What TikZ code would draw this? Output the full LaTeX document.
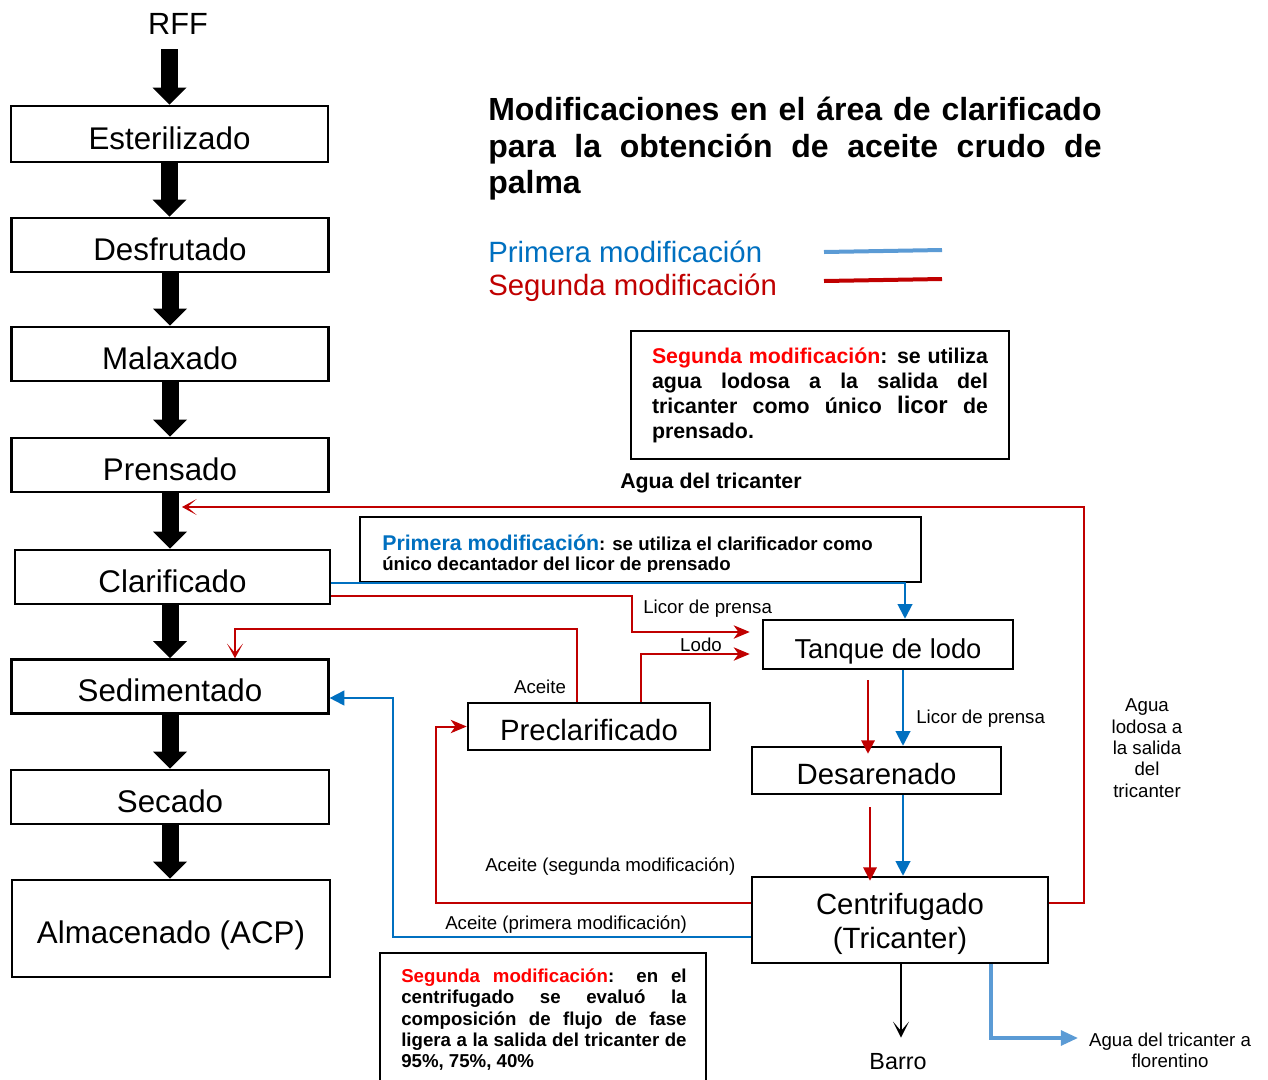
\documentclass[tikz,border=0pt]{standalone}
\usepackage{fontspec}
\setmainfont{Liberation Sans}
\usetikzlibrary{arrows.meta}

\definecolor{pblue}{RGB}{0,112,192}
\definecolor{sred}{RGB}{192,0,0}
\definecolor{hred}{RGB}{255,0,0}
\definecolor{lblue}{RGB}{91,155,213}

\newcommand\fsz[2]{\fontsize{#1}{#2}\selectfont}

\begin{document}
\begin{tikzpicture}[x=0.75pt,y=-0.75pt,
  lbox/.style={draw, line width=1.9pt, minimum width=237.5pt, minimum height=40.5pt,
               inner sep=0pt, text height=23pt, text depth=0pt, font=\fsz{23.5}{28}},
  rbox/.style={draw, line width=1.9pt, inner sep=0pt, align=center, font=\fsz{22}{25.5}},
  onel/.style={text height=21.5pt, text depth=0pt},
  note/.style={draw, line width=1.9pt, inner ysep=0pt, inner xsep=15.75pt,
               align=justify, font=\bfseries\fsz{16}{18.75}},
  lbl/.style={inner sep=0pt, font=\fsz{14}{16}},
  bigarrow/.style={line width=12.75pt,
               -{Triangle[length=12.75pt,width=25.5pt,line width=0pt]}},
  redln/.style={draw=sred, line width=1.5pt},
  blueln/.style={draw=pblue, line width=1.5pt},
  redtip/.style={-{Stealth[length=12pt,width=10pt,inset=3.5pt]}},
  redopen/.style={-{Stealth[length=11pt,width=12pt,inset=7pt]}},
  redtri/.style={-{Triangle[length=10pt,width=10pt]}},
  bluetip/.style={-{Triangle[length=11pt,width=11pt]}},
  lbtip/.style={-{Triangle[length=13pt,width=11pt]}},
  blackopen/.style={-{Stealth[length=12pt,width=12pt,inset=7pt]}}
]
\useasboundingbox (0,0) rectangle (1268,1079);
\fill[white] (0,0) rectangle (1268,1079);

% ---- main process column ----
\node[inner sep=0pt, font=\fsz{23}{28}] (rff) at (178,24) {RFF};
\node[lbox, minimum height=42pt] (est) at (169.5,134) {Esterilizado};
\node[lbox] (desf) at (170,245) {Desfrutado};
\node[lbox] (mal) at (170,354) {Malaxado};
\node[lbox] (pren) at (170,465) {Prensado};
\node[lbox, minimum width=236.25pt] (clar) at (172.5,577) {Clarificado};
\node[lbox] (sed) at (170,686.5) {Sedimentado};
\node[lbox, minimum width=238.5pt] (sec) at (170,797) {Secado};
\node[lbox, minimum width=238.5pt, minimum height=72.75pt] (alm) at (171,928.5) {Almacenado (ACP)};

\path ([yshift=-11pt]rff.south) coordinate (rffb);
\draw[bigarrow] (rffb -| est.north) -- (est.north);
\draw[bigarrow] (est.south) -- (est.south |- desf.north);
\draw[bigarrow] (desf.south) -- (desf.south |- mal.north);
\draw[bigarrow] (mal.south) -- (mal.south |- pren.north);
\draw[bigarrow] (pren.south) -- (pren.south |- clar.north);
\draw[bigarrow] (clar.south -| pren.south) -- (pren.south |- sed.north);
\draw[bigarrow] (sed.south) -- (sed.south |- sec.north);
\draw[bigarrow] (sec.south) -- (sec.south |- alm.north);

% ---- title and legend ----
\node[anchor=base west, inner sep=0pt, text width=460pt, align=justify,
      font=\bfseries\fsz{24}{27.5}] (title) at (488,120.5)
  {Modificaciones en el área de clarificado\linebreak para la obtención de aceite crudo de\linebreak palma};
\node[anchor=base west, inner sep=0pt, text=pblue, font=\fsz{22}{26}] (leg1) at (488,262) {Primera modificación};
\node[anchor=base west, inner sep=0pt, text=sred, font=\fsz{22}{26}] (leg2) at (488,295) {Segunda modificación};
\draw[lblue, line width=3pt] (824,252) -- (942,250);
\draw[sred, line width=3pt] (824,281) -- (942,279);

% ---- notes ----
\node[note, text width=252pt, minimum height=96pt] (note2) at (820,395)
  {{\color{hred}Segunda modificación}: se utiliza\linebreak agua lodosa a la salida del\linebreak
   tricanter como único {\fsz{18}{18.75}licor} de\linebreak prensado.};

\node[draw, line width=1.9pt, minimum width=420.75pt, minimum height=48.75pt] (prim) at (640.5,549.5) {};
\begin{scope}
  \clip (362,519) rectangle (919,571.5);
  \node[anchor=base west, inner sep=0pt, font=\bfseries\fsz{14}{16}] (prim1) at (382,550)
    {{\color{pblue}\fsz{16}{16}Primera modificación}: se utiliza el clarificador como};
  \node[anchor=base west, inner sep=0pt, font=\bfseries\fsz{14}{16}] (prim2) at (382,570)
    {único decantador del licor de prensado};
\end{scope}

\draw[line width=1.9pt] (380,953) rectangle (706,1100);
\node[anchor=base west, inner sep=0pt, text width=214pt, align=justify,
      font=\bfseries\fsz{14}{16}] (note3) at (401,982.5)
  {{\color{hred}Segunda modificación}: en el\linebreak centrifugado se evaluó la\linebreak
   composición de flujo de fase\linebreak ligera a la salida del tricanter de\linebreak 95\%, 75\%, 40\%};

% ---- clarification area ----
\node[rbox, onel, minimum width=187.5pt, minimum height=36.75pt, font=\fsz{20.5}{25}] (tank) at (888,644.5) {Tanque de lodo};
\node[rbox, onel, minimum width=186.75pt, minimum height=35.25pt] (des) at (876.5,770.5) {Desarenado};
\node[rbox, minimum width=222pt, minimum height=64.5pt] (cent) at (900,920) {\rule{0pt}{22pt}Centrifugado\\(Tricanter)};
\node[rbox, onel, minimum width=181.5pt, minimum height=35.25pt] (pre) at (589,726.5) {Preclarificado};

% first modification: clarifier liquor to the sludge tank
\coordinate (b1) at (905,583);
\draw[blueln, bluetip] (clar.east |- b1) -- (b1) -- (tank.north -| b1);

% second modification: press liquor and sludge into the tank
\coordinate (r1) at (632,596);
\coordinate (r2) at (632,632);
\draw[redln, redtip, shorten >=9pt] (clar.east |- r1) -- (r1) -- (r2) -- (tank.west |- r2);
\coordinate (l1) at (641,654);
\draw[redln, redtip, shorten >=9pt] (pre.north -| l1) -- (l1) -- (tank.west |- l1);

% oil from the pre-clarifier to sedimentation
\coordinate (a1) at (577,629);
\coordinate (a2) at (235,629);
\draw[redln, redopen] (pre.north -| a1) -- (a1) -- (a2) -- (sed.north -| a2);

% tank -> desander -> tricanter
\coordinate (t1) at (868,680);
\coordinate (t2) at (870,807);
\coordinate (xb) at (903,0);
\draw[redln, redtri, shorten >=-6pt] (t1) -- (des.north -| t1);
\draw[blueln, bluetip] (tank.south -| xb) -- (des.north -| xb);
\draw[redln, redtri, shorten >=-3.75pt] (t2) -- (cent.north -| t2);
\draw[blueln, bluetip] (des.south -| xb) -- (cent.north -| xb);

% oil returns from the tricanter
\coordinate (s1) at (436,903);
\draw[redln, redtip] (cent.west |- s1) -- (s1) -- (s1 |- pre.west) -- (pre.west);
\coordinate (p1) at (393,937);
\coordinate (p2) at (393,698);
\draw[blueln, bluetip] (cent.west |- p1) -- (p1) -- (p2) -- (sed.east |- p2);

% tricanter water back to the press
\coordinate (w1) at (1084,903);
\coordinate (w2) at (1084,507);
\coordinate (w3) at (182,507);
\draw[redln, redopen] (cent.east |- w1) -- (w1) -- (w2) -- (w3);

% outputs
\node[inner sep=0pt, font=\fsz{17.5}{20}] (barro) at (898,1062) {Barro};
\coordinate (xk) at (901,0);
\draw[line width=1.5pt, blackopen, shorten >=12pt] (cent.south -| xk) -- (barro.north -| xk);
\node[inner sep=0pt, align=center, font=\fsz{14}{16}] (flor) at (1170,1050) {Agua del tricanter a\\florentino};
\coordinate (f1) at (991,1038);
\draw[lblue, line width=3pt, lbtip, shorten >=8pt] (cent.south -| f1) -- (f1) -- (flor.west |- f1);

% ---- labels ----
\node[lbl, anchor=west] (lp1) at (643,608.5) {Licor de prensa};
\node[lbl] (lodo) at (701,645) {Lodo};
\node[lbl] (ac) at (540,687) {Aceite};
\node[lbl, anchor=west] (lp2) at (916,718.5) {Licor de prensa};
\node[lbl, anchor=west] (as) at (485,866.5) {Aceite (segunda modificación)};
\node[lbl, anchor=west] (ap) at (445,924.5) {Aceite (primera modificación)};
\node[lbl, align=center] (agl) at (1147,748) {Agua\\lodosa a\\la salida\\del\\tricanter};
\node[inner sep=0pt, anchor=west, font=\bfseries\fsz{16}{19}] (adt) at (620,483) {Agua del tricanter};
\end{tikzpicture}
\end{document}
